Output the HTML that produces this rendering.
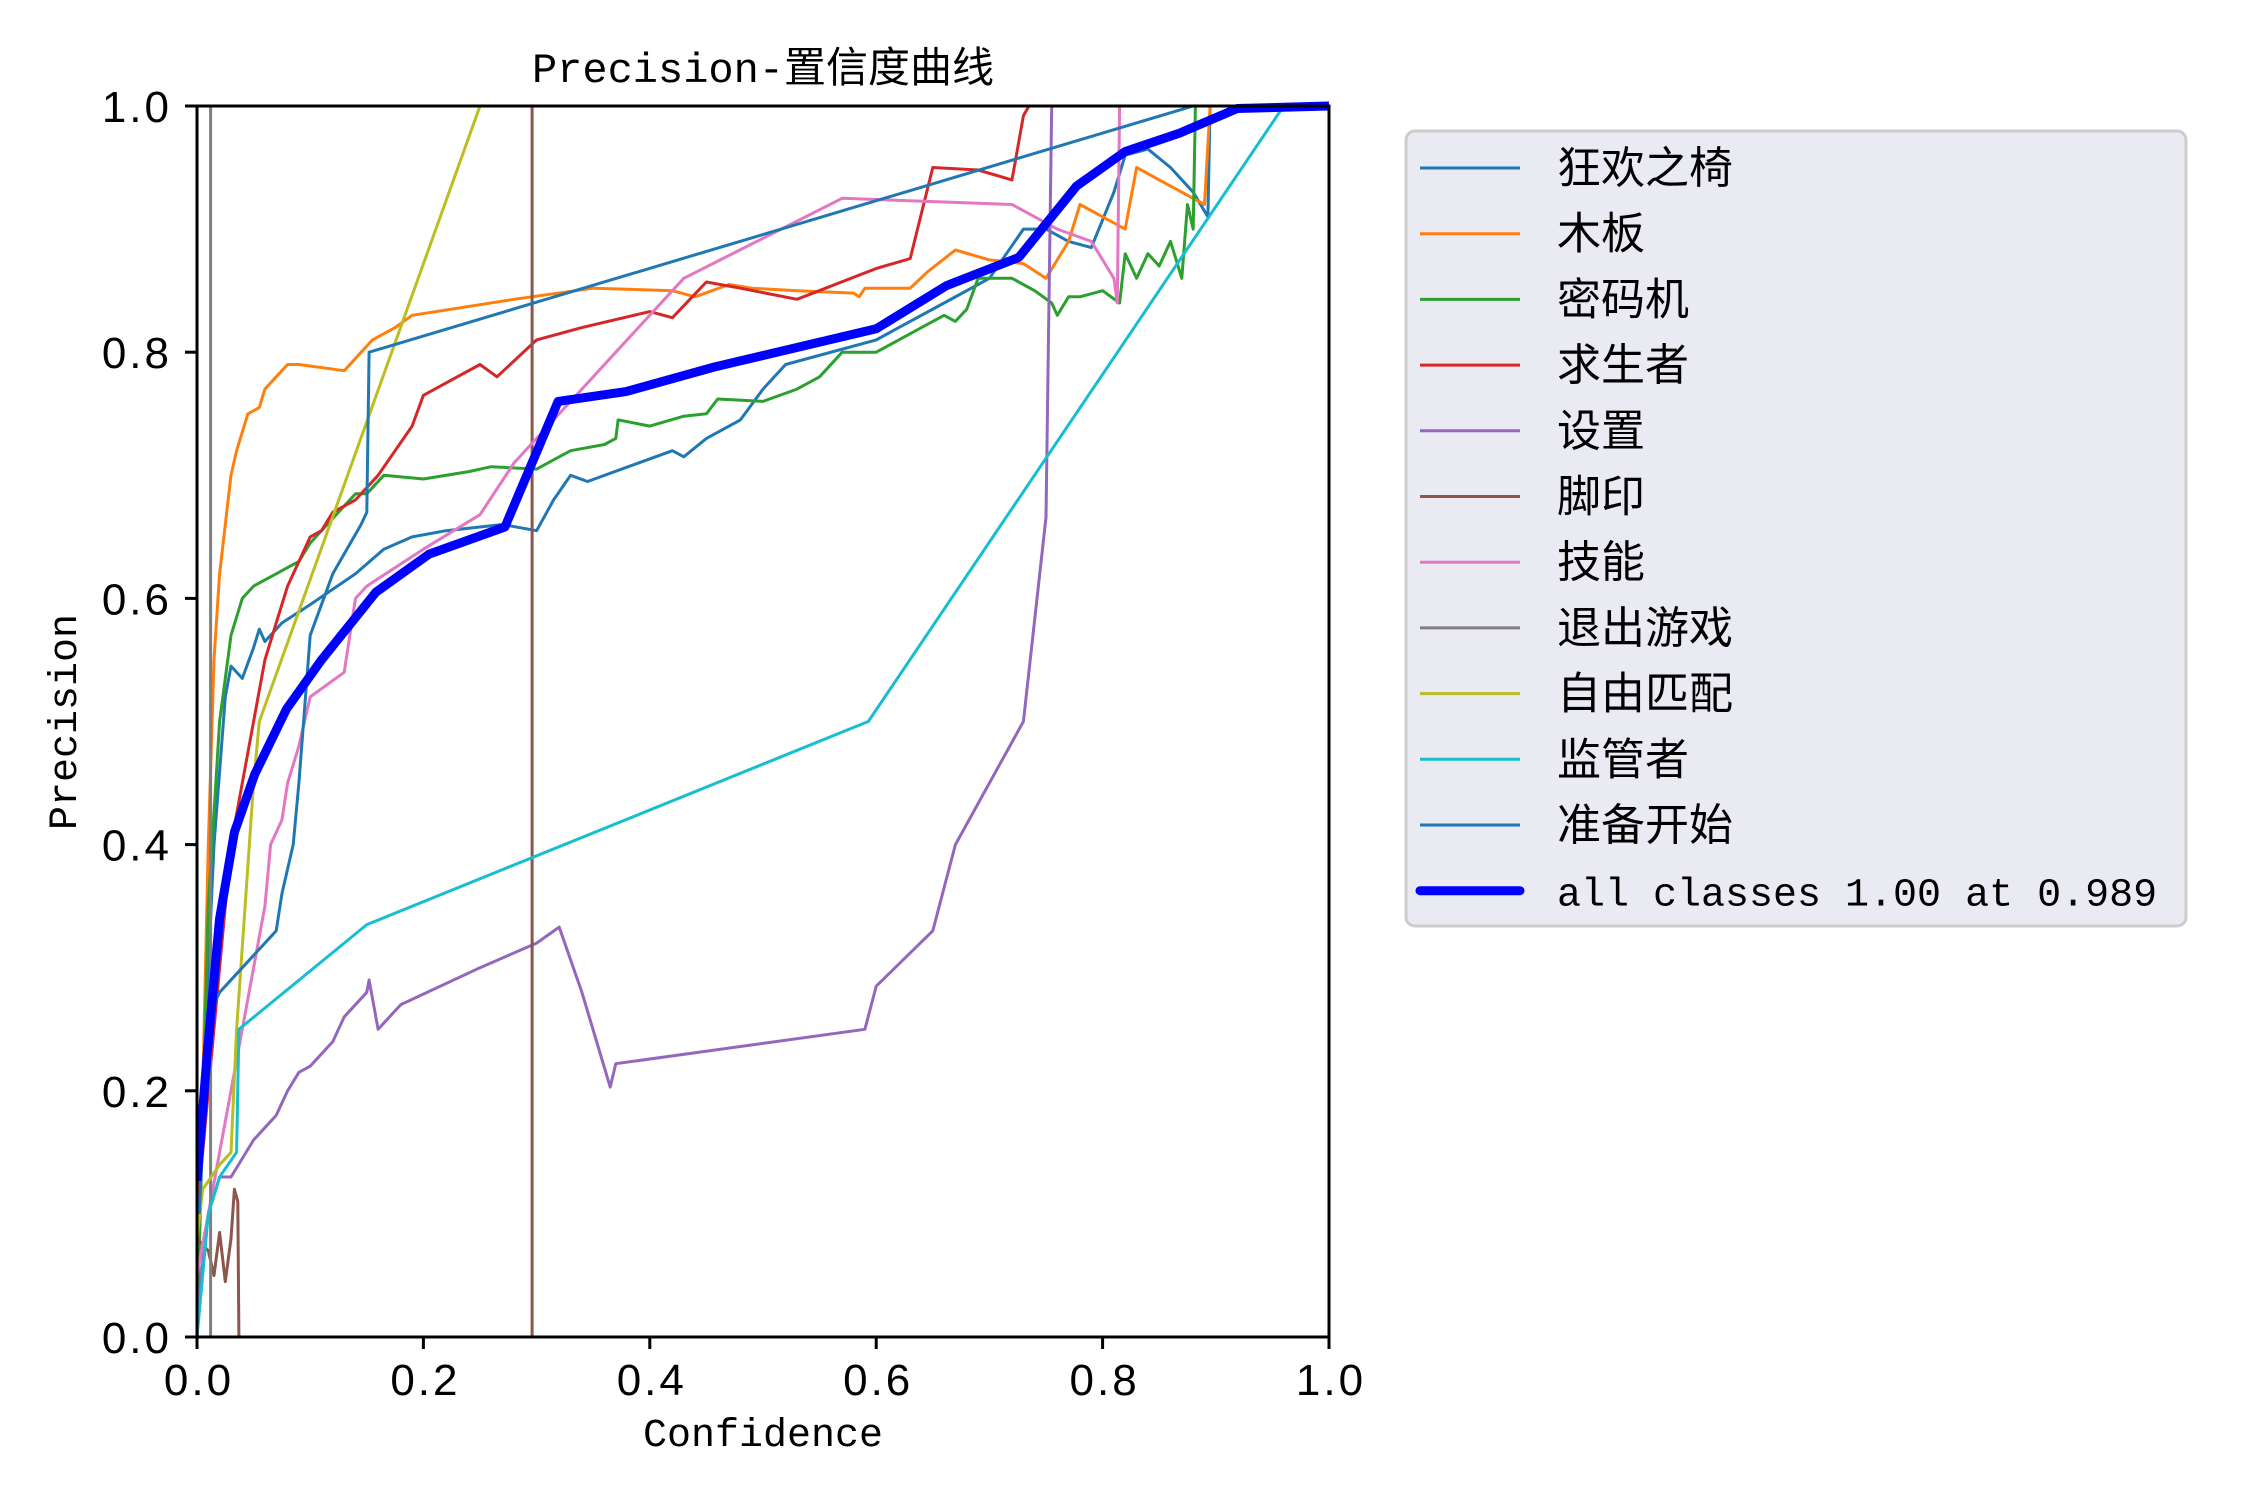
<!DOCTYPE html>
<html><head><meta charset="utf-8"><style>
html,body{margin:0;padding:0;background:#fff;}
svg{display:block;}
text{font-family:"Liberation Mono","Noto Sans CJK SC",monospace;fill:#000;}
.cjk{font-family:"Liberation Sans","Noto Sans CJK SC",sans-serif;}
.tick{font-family:"Liberation Sans",sans-serif;letter-spacing:3px;}
</style></head><body>
<svg id="chart" width="2250" height="1500" viewBox="0 0 2250 1500" xmlns="http://www.w3.org/2000/svg" style="position:absolute;left:0;top:0">
<rect width="2250" height="1500" fill="#fff"/>
<g id="plot"></g>
<g id="axes"></g>
<g id="legend"></g>
<text x="763" y="82" font-size="42" text-anchor="middle">Precision-置信度曲线</text>
<text x="763" y="1446" font-size="40" text-anchor="middle">Confidence</text>
<text x="0" y="0" font-size="40" text-anchor="middle" transform="translate(76,722) rotate(-90)">Precision</text>
</svg>
<script>
const classNames = ["狂欢之椅","木板","密码机","求生者","设置","脚印","技能","退出游戏","自由匹配","监管者","准备开始","all classes 1.00 at 0.989"];
const colors = ["#1f77b4","#ff7f0e","#2ca02c","#d62728","#9467bd","#8c564b","#e377c2","#7f7f7f","#bcbd22","#17becf","#1f77b4","#0000ff"];
const xTicks = [0,0.2,0.4,0.6,0.8,1.0];
const yTicks = [0,0.2,0.4,0.6,0.8,1.0];
const xTickLabels = ["0.0","0.2","0.4","0.6","0.8","1.0"];
const yTickLabels = ["0.0","0.2","0.4","0.6","0.8","1.0"];
const s0x = [0,0.005,0.015,0.025,0.03,0.04,0.05,0.055,0.06,0.075,0.1,0.14,0.165,0.19,0.22,0.27,0.3,0.315,0.33,0.345,0.42,0.43,0.45,0.48,0.5,0.52,0.6,0.62,0.66,0.7,0.73,0.75,0.77,0.79,0.81,0.82,0.84,0.86,0.88,0.893,0.895];
const s0y = [0,0.2,0.4,0.52,0.545,0.535,0.56,0.575,0.565,0.58,0.595,0.62,0.64,0.65,0.655,0.66,0.655,0.68,0.7,0.695,0.72,0.715,0.73,0.745,0.77,0.79,0.81,0.82,0.84,0.86,0.9,0.9,0.89,0.885,0.93,0.96,0.965,0.95,0.93,0.91,1.0];
const s1x = [0,0.01,0.015,0.02,0.025,0.03,0.035,0.045,0.055,0.06,0.07,0.08,0.09,0.13,0.145,0.155,0.175,0.19,0.28,0.35,0.42,0.44,0.47,0.49,0.53,0.58,0.585,0.59,0.63,0.645,0.67,0.7,0.73,0.75,0.77,0.78,0.8,0.82,0.83,0.85,0.87,0.89,0.895];
const s1y = [0,0.4,0.55,0.62,0.66,0.7,0.72,0.75,0.755,0.77,0.78,0.79,0.79,0.785,0.8,0.81,0.82,0.83,0.843,0.852,0.85,0.845,0.855,0.852,0.85,0.848,0.845,0.852,0.852,0.865,0.883,0.875,0.872,0.86,0.89,0.92,0.91,0.9,0.95,0.94,0.93,0.92,1.0];
const s2x = [0,0.01,0.02,0.03,0.04,0.05,0.06,0.07,0.08,0.09,0.1,0.12,0.14,0.15,0.165,0.2,0.24,0.26,0.3,0.33,0.36,0.37,0.372,0.4,0.43,0.45,0.46,0.5,0.53,0.55,0.57,0.6,0.62,0.64,0.66,0.67,0.68,0.69,0.72,0.74,0.755,0.76,0.77,0.78,0.8,0.815,0.82,0.83,0.84,0.85,0.86,0.87,0.875,0.88,0.882];
const s2y = [0,0.35,0.5,0.57,0.6,0.61,0.615,0.62,0.625,0.63,0.645,0.665,0.685,0.685,0.7,0.697,0.703,0.707,0.705,0.72,0.725,0.73,0.745,0.74,0.748,0.75,0.762,0.76,0.77,0.78,0.8,0.8,0.81,0.82,0.83,0.825,0.835,0.86,0.86,0.85,0.84,0.83,0.845,0.845,0.85,0.84,0.88,0.86,0.88,0.87,0.89,0.86,0.92,0.9,1.0];
const s3x = [0,0.02,0.03,0.04,0.05,0.06,0.07,0.08,0.09,0.1,0.11,0.12,0.14,0.16,0.19,0.2,0.25,0.265,0.3,0.34,0.4,0.42,0.45,0.48,0.53,0.6,0.63,0.65,0.69,0.72,0.73,0.735];
const s3y = [0.1,0.3,0.4,0.45,0.5,0.55,0.58,0.61,0.63,0.65,0.655,0.67,0.68,0.7,0.74,0.765,0.79,0.78,0.81,0.82,0.833,0.828,0.857,0.852,0.843,0.868,0.876,0.95,0.948,0.94,0.992,1.0];
const s4x = [0,0.01,0.02,0.03,0.04,0.05,0.06,0.07,0.08,0.09,0.1,0.12,0.13,0.15,0.152,0.16,0.18,0.25,0.3,0.32,0.34,0.365,0.37,0.59,0.6,0.65,0.67,0.73,0.75,0.755];
const s4y = [0.02,0.1,0.13,0.13,0.145,0.16,0.17,0.18,0.2,0.215,0.22,0.24,0.26,0.28,0.29,0.25,0.27,0.3,0.32,0.333,0.28,0.203,0.222,0.25,0.285,0.33,0.4,0.5,0.666,1.0];
const s5x = [0,0.01,0.015,0.02,0.025,0.03,0.033,0.036,0.037,0.296,0.296];
const s5y = [0.08,0.07,0.05,0.085,0.045,0.08,0.12,0.11,0,0,1.0];
const s6x = [0,0.02,0.04,0.05,0.06,0.065,0.075,0.08,0.09,0.1,0.13,0.14,0.15,0.2,0.25,0.28,0.3,0.37,0.43,0.57,0.72,0.76,0.79,0.81,0.813,0.815];
const s6y = [0.05,0.15,0.25,0.3,0.35,0.4,0.42,0.45,0.48,0.52,0.54,0.6,0.61,0.64,0.668,0.71,0.73,0.8,0.86,0.925,0.92,0.9,0.89,0.86,0.84,1.0];
const s7x = [0.012,0.012];
const s7y = [0,1.0];
const s8x = [0,0.005,0.02,0.03,0.035,0.05,0.055,0.25];
const s8y = [0.08,0.12,0.14,0.15,0.25,0.45,0.5,1.0];
const s9x = [0,0.01,0.02,0.035,0.037,0.15,0.593,0.96,1.0];
const s9y = [0,0.1,0.13,0.15,0.25,0.335,0.5,1.0,1.0];
const s10x = [0.002,0.01,0.02,0.04,0.07,0.075,0.085,0.09,0.1,0.12,0.145,0.15,0.152,0.88];
const s10y = [0.1,0.26,0.28,0.3,0.33,0.36,0.4,0.45,0.57,0.62,0.66,0.67,0.8,1.0];
const s11x = [0,0.009,0.02,0.033,0.051,0.079,0.11,0.158,0.205,0.272,0.319,0.379,0.457,0.6,0.662,0.726,0.777,0.82,0.868,0.919,1.0];
const s11y = [0.127,0.23,0.34,0.41,0.457,0.51,0.55,0.605,0.636,0.658,0.76,0.768,0.788,0.819,0.854,0.877,0.935,0.963,0.978,0.998,1.0];
const seriesX = [s0x,s1x,s2x,s3x,s4x,s5x,s6x,s7x,s8x,s9x,s10x,s11x];
const seriesY = [s0y,s1y,s2y,s3y,s4y,s5y,s6y,s7y,s8y,s9y,s10y,s11y];

const NS = "http://www.w3.org/2000/svg";
const L = 197, R = 1329, T = 106, B = 1337;
function xs(v){ return L + v*(R-L); }
function ys(v){ return B - v*(B-T); }
function mk(tag, attrs, parent){ const e = document.createElementNS(NS, tag); for (const k in attrs) e.setAttribute(k, attrs[k]); parent.appendChild(e); return e; }

const plot = document.getElementById('plot');
const clip = mk('clipPath', {id:'clipax'}, plot);
mk('rect', {x:L, y:T-5, width:R-L+2, height:B-T+5}, clip);
for (let i = 0; i < seriesX.length; i++) {
  const pts = seriesX[i].map((x, j) => xs(x).toFixed(1) + ',' + ys(seriesY[i][j]).toFixed(1)).join(' ');
  const pl = mk('polyline', {points: pts, fill:'none', stroke: colors[i], 'stroke-width': i === 11 ? 9 : 3, 'stroke-linejoin':'round', 'clip-path':'url(#clipax)'}, plot);
  
  
}

const axes = document.getElementById('axes');
const frame = mk('rect', {x:L, y:T, width:R-L, height:B-T, fill:'none', stroke:'#000', 'stroke-width':3}, axes);


xTicks.forEach((v, i) => {
  const t = mk('line', {x1:xs(v), x2:xs(v), y1:B, y2:B+12, stroke:'#000', 'stroke-width':3}, axes);
  
  
  const lb = mk('text', {x:xs(v)+2, y:B+58, 'font-size':44, 'text-anchor':'middle', class:'tick'}, axes);
  lb.textContent = xTickLabels[i];
  
  
});
yTicks.forEach((v, i) => {
  const t = mk('line', {x1:L-12, x2:L, y1:ys(v), y2:ys(v), stroke:'#000', 'stroke-width':3}, axes);
  
  
  const lb = mk('text', {x:L-25, y:ys(v)+16, 'font-size':44, 'text-anchor':'end', class:'tick'}, axes);
  lb.textContent = yTickLabels[i];
  
  
});

const legend = document.getElementById('legend');
const box = mk('rect', {x:1406, y:131, width:780, height:795, rx:9, fill:'#eaeaf2', stroke:'#cccccc', 'stroke-width':3}, legend);


classNames.forEach((n, i) => {
  const y = 168 + i*65.7;
  const ln = mk('line', {x1:1420, x2:1520, y1:y, y2:y, stroke:colors[i], 'stroke-width': i === 11 ? 9 : 3, 'stroke-linecap': i===11?'round':'butt'}, legend);
  
  
  const tx = mk('text', {x:1557, y:y+15, 'font-size': i===11 ? 40 : 44, class: i===11 ? '' : 'cjk'}, legend);
  tx.textContent = n;
  
  
});
</script>
</body></html>
